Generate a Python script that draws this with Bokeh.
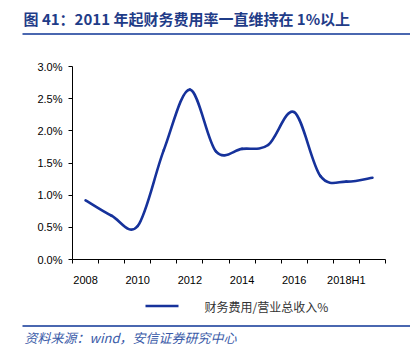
from bokeh.plotting import figure
from bokeh.layouts import column, row
from bokeh.models import Range1d, FixedTicker, PrintfTickFormatter
from bokeh.core.properties import value
from bokeh.embed import file_html
from bokeh.resources import INLINE

# ---- data ----
categories = ["2008", "2009", "2010", "2011", "2012", "2013", "2014",
              "2015", "2016", "2017", "2018H1", "2018Q3"]
ratio_pct = [0.92, 0.68, 0.52, 1.70, 2.64, 1.68, 1.72, 1.78, 2.29, 1.30, 1.21, 1.27]
y_ticks = [0.0, 0.5, 1.0, 1.5, 2.0, 2.5, 3.0]
series_name = "财务费用/营业总收入%"
title_text = "图 41：2011 年起财务费用率一直维持在 1%以上"
source_text = "资料来源：wind，安信证券研究中心"

LINE_COLOR = "#16329B"
TITLE_COLOR = "#1F3C88"
RULE_COLOR = "#4A67B0"
CJK = "Noto Sans CJK SC"
LAT = "Liberation Sans"
W = 410
HEAD_H, MAIN_H, FOOT_H = 40, 250, 65


def blank(h):
    f = figure(width=W, height=h,
               output_backend="svg", toolbar_location=None,
               x_axis_location=None, y_axis_location=None,
               x_range=Range1d(0, W), y_range=Range1d(h, 0),
               min_border=0, outline_line_color=None)
    f.grid.visible = False
    return f


# ---- header ----
header = blank(HEAD_H)
header.text(x=[23], y=[18], text=[title_text], text_font=value(CJK),
            text_font_size="15px", text_font_style="bold", text_color=TITLE_COLOR,
            text_baseline="middle", text_align="left")
header.segment(x0=[22], y0=[33.5], x1=[W], y1=[33.5], line_color=RULE_COLOR, line_width=2)

# ---- main chart ----
n = len(ratio_pct)
xs = list(range(n))
p = figure(width=W, height=MAIN_H, output_backend="svg", toolbar_location=None,
           x_range=Range1d(-0.5, n - 0.5), y_range=Range1d(0, 3.0),
           min_border_left=72, min_border_right=25, min_border_top=26, min_border_bottom=31,
           outline_line_color=None)
p.grid.visible = False

# smoothed line (Excel-like) through the data points with cubic beziers
x0, y0, x1, y1, cx0, cy0, cx1, cy1 = [], [], [], [], [], [], [], []
for i in range(n - 1):
    xm, ym = xs[max(i - 1, 0)], ratio_pct[max(i - 1, 0)]
    xa, ya = xs[i], ratio_pct[i]
    xb, yb = xs[i + 1], ratio_pct[i + 1]
    xp, yp = xs[min(i + 2, n - 1)], ratio_pct[min(i + 2, n - 1)]
    x0.append(xa); y0.append(ya); x1.append(xb); y1.append(yb)
    cx0.append(xa + (xb - xm) / 6); cy0.append(ya + (yb - ym) / 6)
    cx1.append(xb - (xp - xa) / 6); cy1.append(yb - (yp - ya) / 6)
p.bezier(x0=x0, y0=y0, x1=x1, y1=y1, cx0=cx0, cy0=cy0, cx1=cx1, cy1=cy1,
         line_color=LINE_COLOR, line_width=2.6, line_cap="round")

# axes
p.yaxis.ticker = FixedTicker(ticks=y_ticks)
p.yaxis.formatter = PrintfTickFormatter(format="%.1f%%")
p.xaxis.ticker = FixedTicker(ticks=[i for i in xs if i % 2 == 0],
                             minor_ticks=[i - 0.5 for i in range(n + 1)])
p.xaxis.major_label_overrides = {i: categories[i] for i in xs if i % 2 == 0}
for ax in (p.xaxis[0], p.yaxis[0]):
    ax.axis_line_color = "black"
    ax.axis_line_width = 1
    ax.major_label_text_font = LAT
    ax.major_label_text_font_size = "11px"
    ax.major_label_text_color = "black"
p.yaxis.major_tick_out = 4
p.yaxis.major_tick_in = 0
p.yaxis.minor_tick_line_color = None
p.yaxis.major_label_standoff = 6
p.xaxis.major_tick_line_color = None
p.xaxis.minor_tick_out = 4
p.xaxis.minor_tick_in = 0
p.xaxis.minor_tick_line_color = "black"
p.xaxis.major_label_standoff = 8

# ---- footer (legend + source) ----
footer = blank(FOOT_H)
footer.segment(x0=[145], y0=[15.5], x1=[178], y1=[15.5], line_color=LINE_COLOR, line_width=2.6)
footer.text(x=[204], y=[15.5], text=[series_name], text_font=value(CJK),
            text_font_size="12px", text_color="#333333",
            text_baseline="middle", text_align="left")
footer.segment(x0=[22], y0=[35.5], x1=[W], y1=[35.5], line_color=RULE_COLOR, line_width=2)
footer.text(x=[24], y=[47], text=[source_text], text_font=value(CJK),
            text_font_size="13px", text_font_style="italic", text_color="#3A5BA8",
            text_baseline="middle", text_align="left")

layout = column(row(header), p, row(footer), spacing=0)
open("out.html", "w").write(file_html(layout, INLINE))
